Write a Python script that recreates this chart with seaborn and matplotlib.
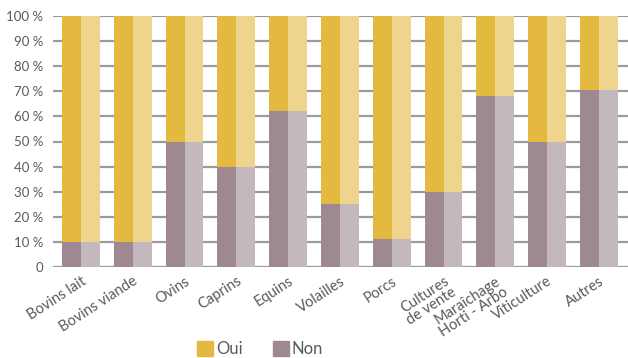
import numpy as np
import matplotlib
matplotlib.use("Agg")
import matplotlib.pyplot as plt
import seaborn as sns
import pandas as pd
from matplotlib.patches import Patch

categories = ["Bovins lait", "Bovins viande", "Ovins", "Caprins", "Equins", "Volailles",
              "Porcs", "Cultures\nde vente", "Maraîchage\nHorti - Arbo", "Viticulture", "Autres"]
non = [10, 10, 50, 40, 62, 25, 11, 30, 68, 50, 70.5]
oui = [100 - v for v in non]

sns.set_theme(style="white")
plt.rcParams["font.family"] = ["Lato", "DejaVu Sans"]

rows = []
for c, n, o in zip(categories, non, oui):
    for half in ["a", "b"]:
        rows.append({"cat": c, "half": half, "non": n, "total": n + o})
df = pd.DataFrame(rows)

fig = plt.figure(figsize=(6.28, 3.58), dpi=100)
ax = fig.add_axes([53 / 628, 1 - 267 / 358, 575 / 628, 251 / 358])

grey = "#9b9b9b"
for v in range(0, 101, 10):
    ax.axhline(v, color=grey, lw=1.6, zorder=0)

sns.barplot(data=df, x="cat", y="total", hue="half", palette=["#E4B93F", "#EFD48E"],
            width=0.73, dodge=True, gap=0, saturation=1, legend=False, ax=ax, zorder=2)
sns.barplot(data=df, x="cat", y="non", hue="half", palette=["#9E8892", "#C3B8BE"],
            width=0.73, dodge=True, gap=0, saturation=1, legend=False, ax=ax, zorder=3)

for bar in ax.patches:
    bar.set_linewidth(0)

ax.set_ylim(0, 100)
ax.set_xlim(-0.54, len(categories) - 1 + 0.56)
ax.set_yticks(range(0, 101, 10))
ax.set_yticklabels(["0"] + [f"{v} %" for v in range(10, 101, 10)])
ax.set_xlabel("")
ax.set_ylabel("")
ax.set_xticks(range(len(categories)))
ax.set_xticklabels(categories, rotation=33, ha="right", rotation_mode="anchor",
                   linespacing=0.9)
ax.tick_params(axis="y", length=0, labelsize=9.5, labelcolor="#5a5a5a", pad=7)
ax.tick_params(axis="x", length=0, labelsize=10.5, labelcolor="#5a5a5a", pad=5)
for s in ax.spines.values():
    s.set_visible(False)

handles = [Patch(color="#E4B93F", label="Oui"), Patch(color="#9E8892", label="Non")]
fig.legend(handles=handles, loc="lower left", bbox_to_anchor=(182 / 628, -0.04), ncol=2,
           frameon=False, fontsize=12, handlelength=0.95, handleheight=0.95,
           columnspacing=1.8, handletextpad=0.2, labelcolor="#5a5a5a")

fig.savefig("out.png", dpi=100)
